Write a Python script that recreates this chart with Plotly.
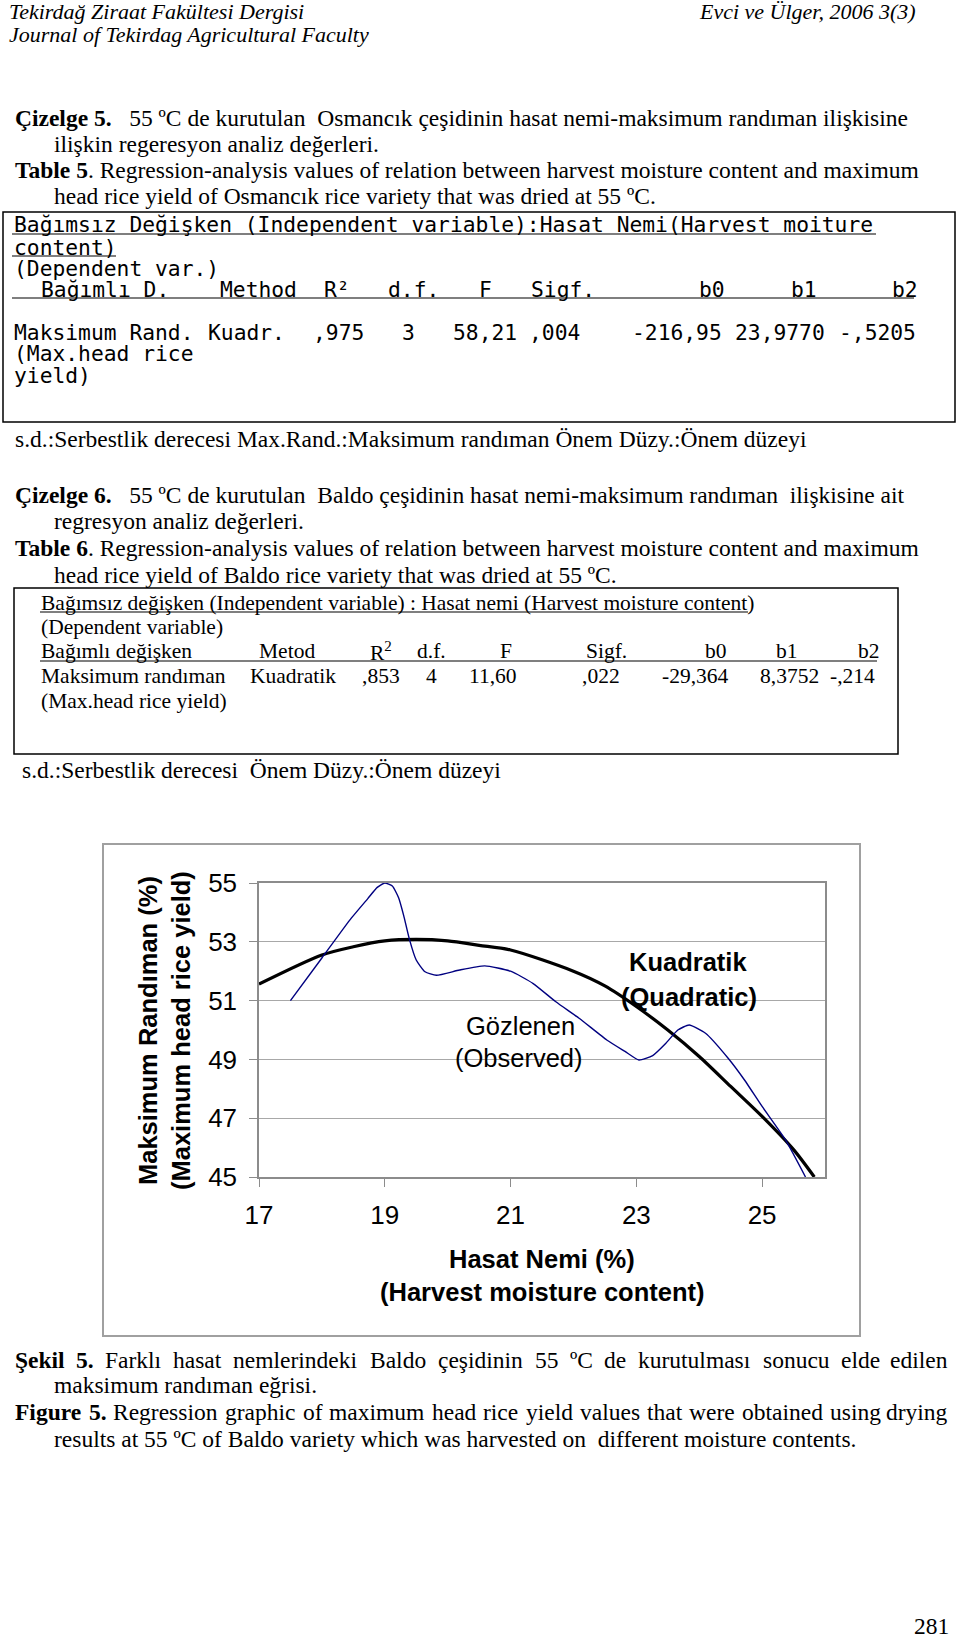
import plotly.graph_objects as go

W, H = 960, 1641
SERIF = "Liberation Serif"
MONO = "DejaVu Sans Mono"
SANS = "Liberation Sans"

# ---------------- chart data ----------------
moisture_obs = [17.5, 18.0, 18.44, 18.73, 18.88, 19.0, 19.12, 19.22, 19.3, 19.39, 19.5, 19.64, 19.82,
                20.19, 20.59, 21.0, 21.36, 21.72, 22.09, 22.53, 22.82, 23.04, 23.26, 23.47,
                23.66, 23.84, 24.1, 24.46, 24.72, 25.0, 25.37, 25.69]
yield_obs = [51.0, 52.45, 53.73, 54.47, 54.85, 55.0, 54.9, 54.5, 53.9, 53.1, 52.38, 51.98, 51.86,
             52.04, 52.18, 52.0, 51.58, 50.96, 50.4, 49.66, 49.27, 48.98, 49.13, 49.55,
             50.0, 50.17, 49.89, 49.04, 48.3, 47.4, 46.27, 45.0]
moisture_fit = [17, 18, 18.5, 19, 19.5, 20, 20.5, 21, 22, 22.5, 23, 23.5, 24, 24.5, 25, 25.5, 25.83]
yield_fit = [51.56, 52.55, 52.83, 53.03, 53.08, 53.03, 52.88, 52.72, 52.0, 51.5, 50.8, 50.0,
             49.1, 48.08, 47.06, 45.93, 45.0]
x_ticks = [17, 19, 21, 23, 25]
y_ticks = [45, 47, 49, 51, 53, 55]

# ---------------- page texts ----------------
header_left = ["Tekirdağ Ziraat Fakültesi Dergisi", "Journal of Tekirdag Agricultural Faculty"]
header_right = "Evci ve Ülger, 2006 3(3)"
cap5 = ["<b>Çizelge 5.</b>\u00a0\u00a0 55 ºC de kurutulan\u00a0 Osmancık çeşidinin hasat nemi-maksimum randıman ilişkisine",
        "ilişkin regeresyon analiz değerleri.",
        "<b>Table 5</b>. Regression-analysis values of relation between harvest moisture content and maximum",
        "head rice yield of Osmancık rice variety that was dried at 55 ºC."]
t1_lines = ["Bağımsız Değişken (Independent variable):Hasat Nemi(Harvest moiture",
            "content)", "(Dependent var.)"]
t1_head = ["Bağımlı D.", "Method", "R²", "d.f.", "F", "Sigf.", "b0", "b1", "b2"]
t1_row = ["Maksimum Rand.", "Kuadr.", ",975", "3", "58,21", ",004", "-216,95", "23,9770", "-,5205"]
t1_row_cont = ["(Max.head rice", "yield)"]
t1_note = "s.d.:Serbestlik derecesi Max.Rand.:Maksimum randıman Önem Düzy.:Önem düzeyi"
cap6 = ["<b>Çizelge 6.</b>\u00a0\u00a0 55 ºC de kurutulan\u00a0 Baldo çeşidinin hasat nemi-maksimum randıman\u00a0 ilişkisine ait",
        "regresyon analiz değerleri.",
        "<b>Table 6</b>. Regression-analysis values of relation between harvest moisture content and maximum",
        "head rice yield of Baldo rice variety that was dried at 55 ºC."]
t2_lines = ["Bağımsız değişken (Independent variable) : Hasat nemi (Harvest moisture content)",
            "(Dependent variable)"]
t2_head = ["Bağımlı değişken", "Metod", "R<sup>2</sup>", "d.f.", "F", "Sigf.", "b0", "b1", "b2"]
t2_row = ["Maksimum randıman", "Kuadratik", ",853", "4", "11,60", ",022", "-29,364", "8,3752", "-,214"]
t2_row_cont = "(Max.head rice yield)"
t2_note = "s.d.:Serbestlik derecesi\u00a0 Önem Düzy.:Önem düzeyi"
fig_cap1 = ("Şekil 5.", "Farklı hasat nemlerindeki Baldo çeşidinin 55 ºC de kurutulması sonucu elde edilen")
fig_cap2 = "maksimum randıman eğrisi."
fig_cap3 = ("Figure 5.", "Regression graphic of maximum head rice yield values that were obtained using drying")
fig_cap4 = "results at 55 ºC of Baldo variety which was harvested on\u00a0 different moisture contents."
page_no = "281"
y_title = ["<b>Maksimum Randıman (%)</b>", "<b>(Maximum head rice yield)</b>"]
x_title = ["<b>Hasat Nemi (%)</b>", "<b>(Harvest moisture content)</b>"]
lab_fit = ["<b>Kuadratik</b>", "<b>(Quadratic)</b>"]
lab_obs = ["Gözlenen", "(Observed)"]

# ---------------- layout helpers ----------------
def px(x):
    return x / W

def py(y):
    return 1 - y / H

ann = []

def T(text, x, y, size=23.5, family=SERIF, anchor="left", angle=0, italic=False, yanchor="middle"):
    ann.append(dict(text=(f"<i>{text}</i>" if italic else text), x=px(x), y=py(y), xref="paper", yref="paper",
                    xanchor=anchor, yanchor=yanchor, showarrow=False, textangle=angle,
                    font=dict(size=size, family=family, color="black"), borderpad=0))

shapes = []

def L(x0, y0, x1, y1, color="black", width=1.2):
    shapes.append(dict(type="line", xref="paper", yref="paper", x0=px(x0), y0=py(y0), x1=px(x1), y1=py(y1),
                       line=dict(color=color, width=width)))

def R(x0, y0, x1, y1, color="black", width=1.5):
    shapes.append(dict(type="rect", xref="paper", yref="paper", x0=px(x0), y0=py(y0), x1=px(x1), y1=py(y1),
                       line=dict(color=color, width=width), fillcolor="rgba(0,0,0,0)", layer="below"))

# Times (Liberation Serif) advance widths, per 1000 em, for justified lines
REG = {" ": 250, "(": 333, ")": 333, ",": 250, "-": 333, ".": 250, ":": 278, "º": 310,
       "A": 722, "B": 667, "C": 667, "D": 722, "E": 611, "F": 556, "G": 722, "H": 722, "I": 333,
       "R": 667, "S": 556, "T": 611,
       "a": 444, "b": 500, "c": 444, "d": 500, "e": 444, "f": 333, "g": 500, "h": 500, "i": 278,
       "j": 278, "k": 500, "l": 278, "m": 778, "n": 500, "o": 500, "p": 500, "q": 500, "r": 333,
       "s": 389, "t": 278, "u": 500, "v": 500, "w": 722, "x": 500, "y": 500, "z": 444,
       "ç": 444, "ş": 389, "ğ": 500, "ı": 278, "ö": 500, "ü": 500}
BOLD = {" ": 250, ".": 250, "5": 500, "F": 611, "Ş": 556, "e": 444, "g": 500, "i": 278,
        "k": 556, "l": 278, "r": 444, "u": 556}

def tw(word, bold, size):
    table = BOLD if bold else REG
    return sum(table.get(ch, 500) for ch in word) / 1000 * size * 1.012

def justify(bold_part, rest, x0, x1, y, size=23.5):
    words = [(w, True) for w in bold_part.split()] + [(w, False) for w in rest.split()]
    widths = [tw(w, b, size) for w, b in words]
    gap = (x1 - x0 - sum(widths)) / (len(words) - 1)
    x = x0
    for i, ((w, b), wd) in enumerate(zip(words, widths)):
        txt = f"<b>{w}</b>" if b else w
        if i == len(words) - 1:
            T(txt, x1, y, size=size, anchor="right")
        else:
            T(txt, x, y, size=size)
        x += wd + gap

# header
T(header_left[0], 8, 11, size=22, italic=True)
T(header_left[1], 8, 35, size=22, italic=True)
T(header_right, 917, 11, size=22, anchor="right", italic=True)

# caption 5
for txt, xx, yy in zip(cap5, [14, 53, 14, 53], [118, 144, 170, 196]):
    T(txt, xx, yy)

# table 1
R(3, 212, 955, 422)
T(t1_lines[0], 13, 225, size=21.3, family=MONO)
T(t1_lines[1], 13, 247, size=21.3, family=MONO)
T(t1_lines[2], 13, 268, size=21.3, family=MONO)
L(12, 234, 876, 234)
L(12, 256, 116, 256)
for txt, xx in zip(t1_head, [40, 219, 323, 387, 478, 530, 698, 790, 891]):
    T(txt, xx, 289, size=21.3, family=MONO)
L(12, 298, 914, 298)
for txt, xx in zip(t1_row, [13, 207, 312, 401, 452, 528, 631, 734, 838]):
    T(txt, xx, 332, size=21.3, family=MONO)
T(t1_row_cont[0], 13, 353, size=21.3, family=MONO)
T(t1_row_cont[1], 13, 375, size=21.3, family=MONO)
T(t1_note, 14, 439)

# caption 6
for txt, xx, yy in zip(cap6, [14, 53, 14, 53], [495, 521, 548, 575]):
    T(txt, xx, yy)

# table 2
R(14, 588, 898, 754)
T(t2_lines[0], 40, 603, size=21.5)
L(40, 612, 748, 612)
T(t2_lines[1], 40, 627, size=21.5)
for txt, xx in zip(t2_head, [40, 258, 369, 416, 499, 585, 704, 775, 857]):
    T(txt, xx, 651, size=21.5)
L(40, 661, 877, 661)
for txt, xx in zip(t2_row, [40, 249, 361, 425, 468, 581, 661, 759, 829]):
    T(txt, xx, 676, size=21.5)
T(t2_row_cont, 40, 701, size=21.5)
T(t2_note, 21, 770)

# chart area box
R(103, 844, 860, 1336, color="#a0a0a0", width=2)

# chart labels
T(y_title[0], 148, 1031, size=25.5, family=SANS, anchor="center", angle=-90)
T(y_title[1], 181, 1031, size=25.5, family=SANS, anchor="center", angle=-90)
T(x_title[0], 542, 1259, size=25.5, family=SANS, anchor="center")
T(x_title[1], 542, 1292, size=25.5, family=SANS, anchor="center")
T(lab_fit[0], 688, 962, size=25.5, family=SANS, anchor="center")
T(lab_fit[1], 689, 997, size=25.5, family=SANS, anchor="center")
T(lab_obs[0], 520, 1026, size=25.5, family=SANS, anchor="center")
T(lab_obs[1], 519, 1058, size=25.5, family=SANS, anchor="center")

# figure caption
justify(fig_cap1[0], fig_cap1[1], 14, 949, 1360)
T(fig_cap2, 53, 1385)
justify(fig_cap3[0], fig_cap3[1], 14, 949, 1412)
T(fig_cap4, 53, 1439)
T(page_no, 950, 1626, anchor="right")

# ---------------- figure ----------------
fig = go.Figure()
fig.add_trace(go.Scatter(x=moisture_fit, y=yield_fit, mode="lines",
                         line=dict(color="black", width=3.2, shape="spline", smoothing=0.8),
                         showlegend=False, hoverinfo="skip"))
fig.add_trace(go.Scatter(x=moisture_obs, y=yield_obs, mode="lines",
                         line=dict(color="#000080", width=1.4, shape="spline", smoothing=0.5),
                         showlegend=False, hoverinfo="skip"))

axcol = "#8c8c8c"
fig.update_layout(
    width=W, height=H, margin=dict(l=0, r=0, t=0, b=0, pad=0, autoexpand=False),
    paper_bgcolor="white", plot_bgcolor="white",
    xaxis=dict(domain=[px(259), px(825)], range=[17, 26], tickvals=x_ticks,
               ticks="outside", ticklen=8, tickcolor=axcol, tickwidth=1,
               showline=True, linecolor=axcol, linewidth=1.5, mirror=True, showgrid=False,
               zeroline=False, ticklabelstandoff=6, automargin=False,
               tickfont=dict(family=SANS, size=26, color="black")),
    yaxis=dict(domain=[py(1177), py(883)], range=[45, 55], tickvals=y_ticks,
               ticks="outside", ticklen=8, tickcolor=axcol, tickwidth=1,
               showline=True, linecolor=axcol, linewidth=1.5, mirror=True,
               showgrid=True, gridcolor="#a8a8a8", gridwidth=1, zeroline=False,
               ticklabelstandoff=7, automargin=False,
               tickfont=dict(family=SANS, size=26, color="black")),
    annotations=ann, shapes=shapes,
)

fig.write_html("out.html")
